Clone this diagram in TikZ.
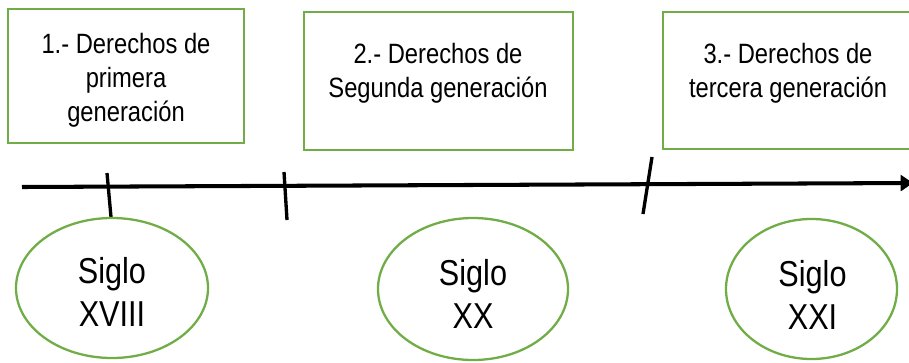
\documentclass[tikz,border=0pt]{standalone}
\usepackage{fontspec}
\setmainfont{Liberation Sans}[FakeStretch=0.85]
\usepackage{tikz}
\usetikzlibrary{arrows.meta}
\definecolor{verde}{HTML}{70AD47}

\begin{document}
\begin{tikzpicture}[x=0.02cm,y=-0.02cm,
	caja/.style={verde,line width=1.3pt},
	marca/.style={black,line width=1.9pt},
	txtcaja/.style={align=center,inner sep=0pt,font=\fontsize{15.9}{19.3}\selectfont},
	txtsiglo/.style={align=center,inner sep=0pt,font=\fontsize{20.5}{24.5}\selectfont}]
\useasboundingbox (0,0) rectangle (909,362);
% cajas de arriba
\draw[caja] (8,9) rectangle (244,143);
\draw[caja] (304,12) rectangle (573,150);
\draw[caja] (663,12) rectangle (925,149);
\node[txtcaja] (G1) at (126,80) {1.- Derechos de\\primera\\generación};
\node[txtcaja] (G2) at (438,73) {2.- Derechos de\\Segunda generación};
\node[txtcaja] (G3) at (788,73) {3.- Derechos de\\tercera generación};
% linea del tiempo
\coordinate (E0) at (22,187);
\coordinate (E1) at (913,183);
\draw[black,line width=2.3pt,-{Triangle[length=7pt,width=9pt]}] (E0) -- (E1);
\coordinate (M1a) at (107,173);
\coordinate (M1b) at (111,217);
\coordinate (M2a) at (284,172);
\coordinate (M2b) at (287,220);
\coordinate (M3a) at (652,157);
\coordinate (M3b) at (643,214);
\draw[marca] (M1a) -- (M1b);
\draw[marca] (M2a) -- (M2b);
\draw[marca] (M3a) -- (M3b);
% siglos
\draw[caja] (112,288) ellipse (96 and 70);
\draw[caja] (473,289) ellipse (95 and 71);
\draw[caja] (811.5,289) ellipse (85.5 and 70);
\node[txtsiglo] (S1) at (112,291.5) {Siglo\\XVIII};
\node[txtsiglo] (S2) at (473,293.5) {Siglo\\XX};
\node[txtsiglo] (S3) at (812.5,294.5) {Siglo\\XXI};
\end{tikzpicture}
\end{document}
